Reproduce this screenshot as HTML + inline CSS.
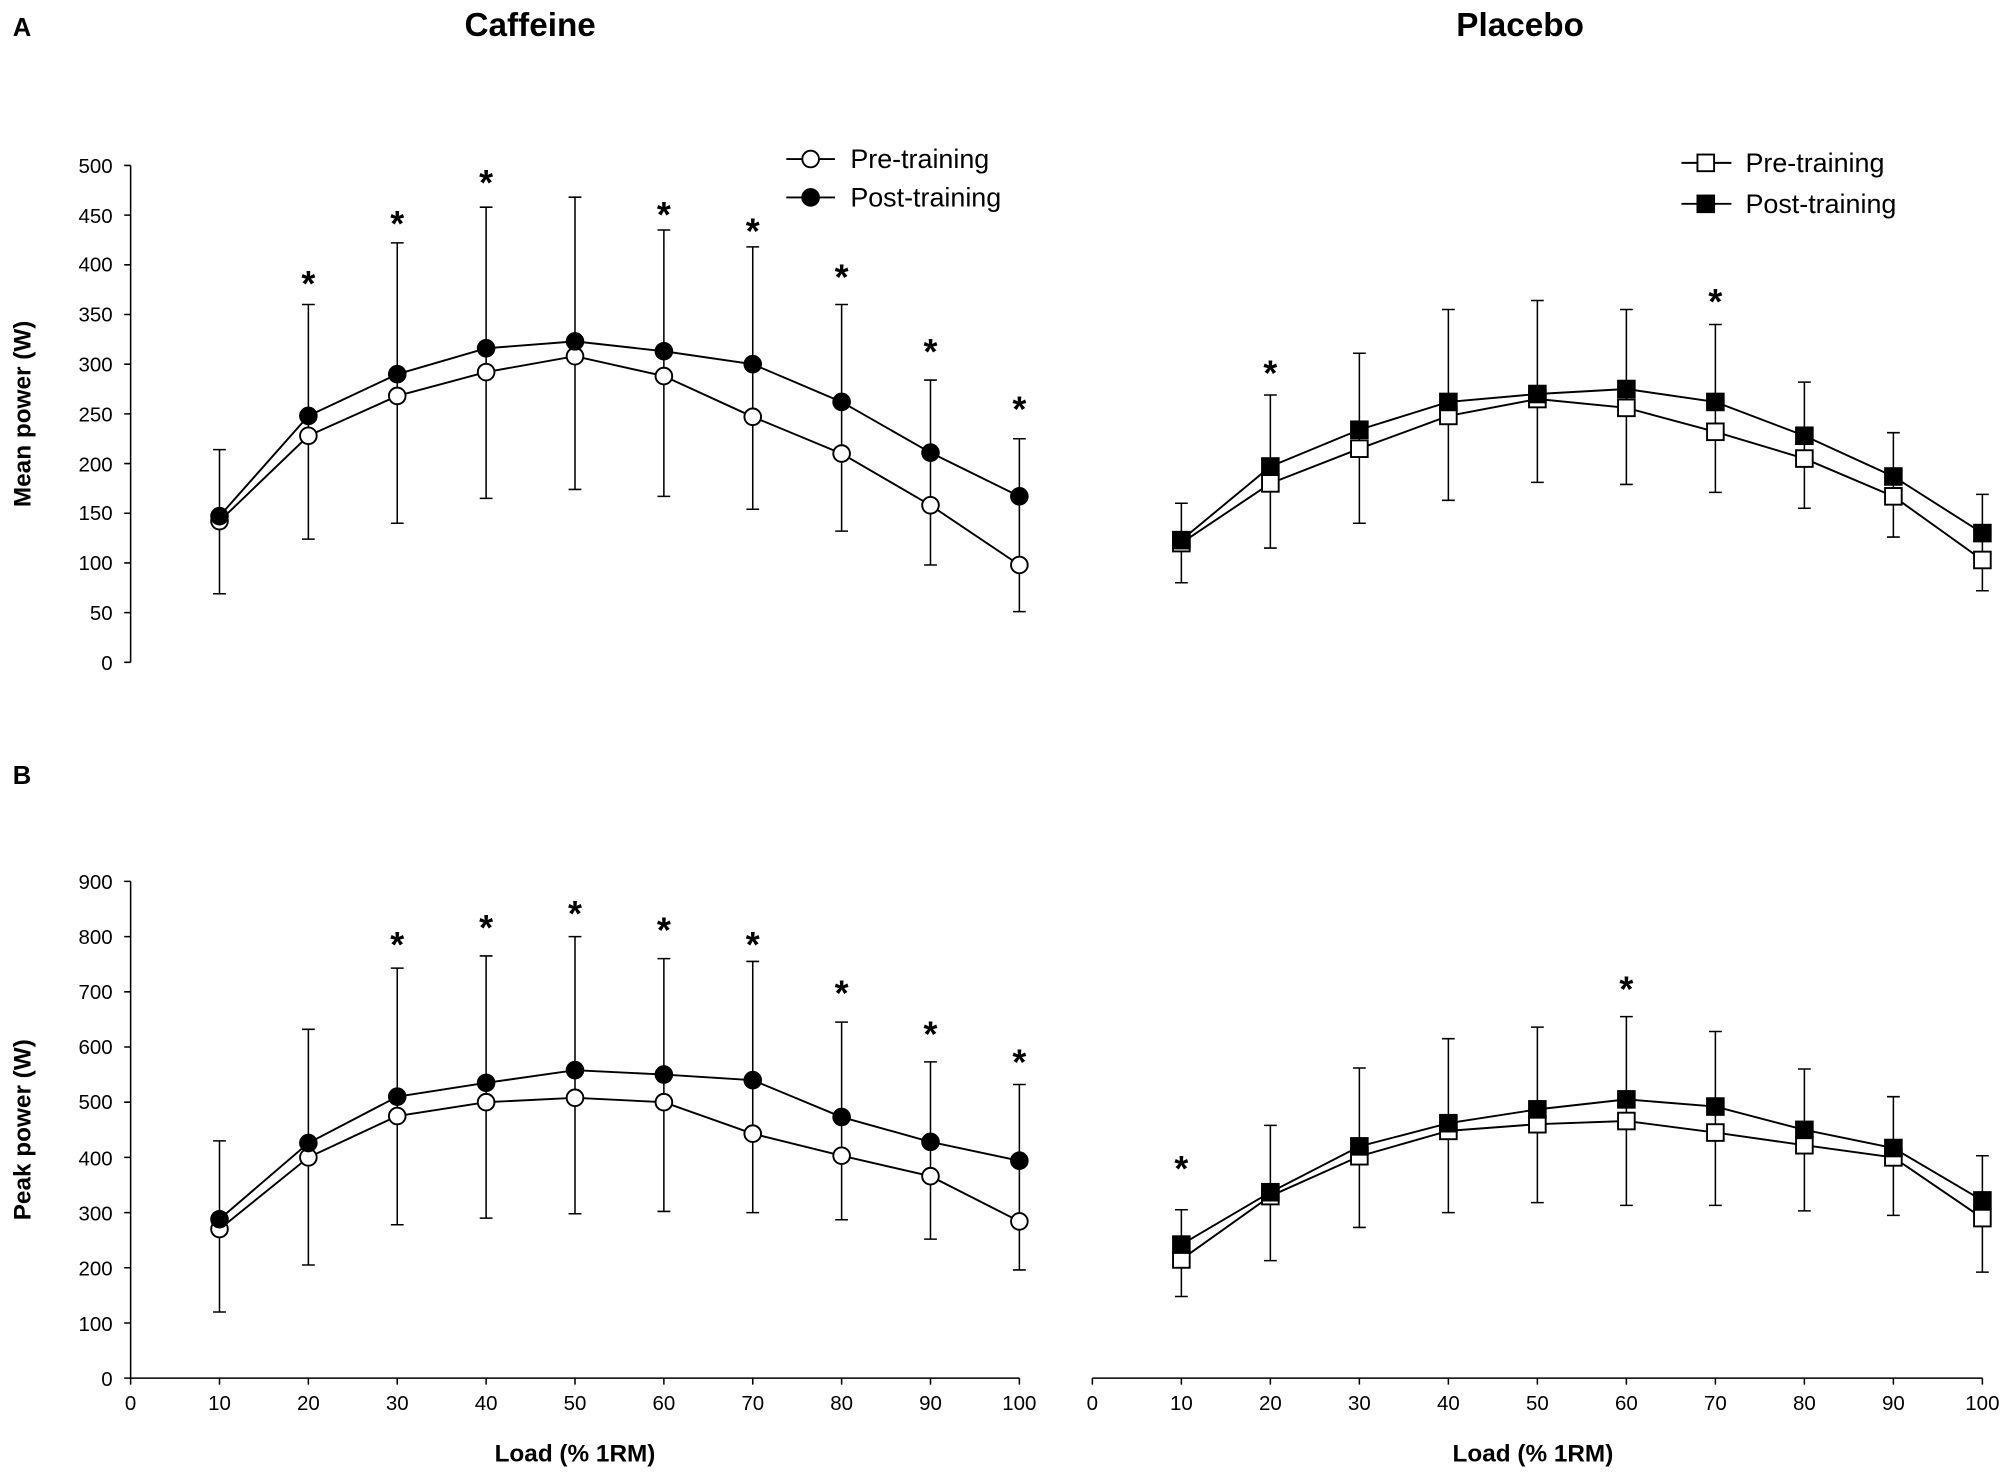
<!DOCTYPE html>
<html><head><meta charset="utf-8"><style>
html,body{margin:0;padding:0;background:#fff}
svg{display:block}
text{font-family:"Liberation Sans",Arial,sans-serif;fill:#000}
.t{font-size:16px}
.b{font-weight:bold}
</style></head><body>
<svg width="2008" height="1477" viewBox="0 0 1568 1153" xmlns="http://www.w3.org/2000/svg">
<defs>
<g id="co"><circle r="6.5" fill="#fff" stroke="#000" stroke-width="1.5"/></g>
<g id="cf"><circle r="6.5" fill="#000" stroke="#000" stroke-width="1.5"/></g>
<g id="so"><rect x="-6.5" y="-6.5" width="13" height="13" fill="#fff" stroke="#000" stroke-width="1.5"/></g>
<g id="sf"><rect x="-6.5" y="-6.5" width="13" height="13" fill="#000" stroke="#000" stroke-width="1.5"/></g>
</defs>
<rect width="1568" height="1153" fill="#fff"/>
<text x="10" y="28" font-size="20" class="b">A</text>
<text x="10" y="612" font-size="20" class="b">B</text>
<text x="414" y="28" font-size="26" class="b" text-anchor="middle">Caffeine</text>
<text x="1187" y="28" font-size="26" class="b" text-anchor="middle">Placebo</text>
<text transform="translate(24,323) rotate(-90)" font-size="19" class="b" text-anchor="middle">Mean power (W)</text>
<text transform="translate(24,882) rotate(-90)" font-size="19" class="b" text-anchor="middle">Peak power (W)</text>
<text x="449" y="1141" font-size="19" class="b" text-anchor="middle">Load (% 1RM)</text>
<text x="1197" y="1141" font-size="19" class="b" text-anchor="middle">Load (% 1RM)</text>

<g stroke="#000" stroke-width="1.2" fill="none">
<path d="M102 129V517 M97 517h5M97 478.2h5M97 439.4h5M97 400.6h5M97 361.8h5M97 323h5M97 284.2h5M97 245.4h5M97 206.6h5M97 167.8h5M97 129h5"/>
<path d="M102 688.1V1076H796 M97 1076h5M97 1032.9h5M97 989.8h5M97 946.7h5M97 903.6h5M97 860.5h5M97 817.4h5M97 774.3h5M97 731.2h5M97 688.1h5"/>
<path d="M102 1076v5M171.4 1076v5M240.8 1076v5M310.2 1076v5M379.6 1076v5M449 1076v5M518.4 1076v5M587.8 1076v5M657.2 1076v5M726.6 1076v5M796 1076v5"/>
<path d="M853 1076H1548 M853 1076v5M922.5 1076v5M992 1076v5M1061.5 1076v5M1131 1076v5M1200.5 1076v5M1270 1076v5M1339.5 1076v5M1409 1076v5M1478.5 1076v5M1548 1076v5"/>
</g>
<g class="t" text-anchor="end">
<text x="88" y="523">0</text><text x="88" y="484">50</text><text x="88" y="445">100</text><text x="88" y="406">150</text><text x="88" y="368">200</text><text x="88" y="329">250</text><text x="88" y="290">300</text><text x="88" y="251">350</text><text x="88" y="212">400</text><text x="88" y="174">450</text><text x="88" y="135">500</text>
<text x="88" y="1082">0</text><text x="88" y="1039">100</text><text x="88" y="996">200</text><text x="88" y="953">300</text><text x="88" y="910">400</text><text x="88" y="866">500</text><text x="88" y="823">600</text><text x="88" y="780">700</text><text x="88" y="737">800</text><text x="88" y="694">900</text>
</g>
<g class="t" text-anchor="middle">
<text x="102" y="1101">0</text><text x="171.4" y="1101">10</text><text x="240.8" y="1101">20</text><text x="310.2" y="1101">30</text><text x="379.6" y="1101">40</text><text x="449" y="1101">50</text><text x="518.4" y="1101">60</text><text x="587.8" y="1101">70</text><text x="657.2" y="1101">80</text><text x="726.6" y="1101">90</text><text x="796" y="1101">100</text>
<text x="853" y="1101">0</text><text x="922.5" y="1101">10</text><text x="992" y="1101">20</text><text x="1061.5" y="1101">30</text><text x="1131" y="1101">40</text><text x="1200.5" y="1101">50</text><text x="1270" y="1101">60</text><text x="1339.5" y="1101">70</text><text x="1409" y="1101">80</text><text x="1478.5" y="1101">90</text><text x="1548" y="1101">100</text>
</g>

<g stroke="#000" stroke-width="1.2" fill="none">
<path d="M171.4 350.9V463.5M166.4 350.9h10M166.4 463.5h10
M240.8 237.6V420.8M235.8 237.6h10M235.8 420.8h10
M310.2 189.5V408.4M305.2 189.5h10M305.2 408.4h10
M379.6 161.6V389M374.6 161.6h10M374.6 389h10
M449 153.8V382M444 153.8h10M444 382h10
M518.4 179.4V387.4M513.4 179.4h10M513.4 387.4h10
M587.8 192.6V397.5M582.8 192.6h10M582.8 397.5h10
M657.2 237.6V414.6M652.2 237.6h10M652.2 414.6h10
M726.6 296.6V441M721.6 296.6h10M721.6 441h10
M796 342.4V477.4M791 342.4h10M791 477.4h10"/>
<path d="M922.5 392.8V454.9M917.5 392.8h10M917.5 454.9h10
M992 308.3V427.8M987 308.3h10M987 427.8h10
M1061.5 275.7V408.4M1056.5 275.7h10M1056.5 408.4h10
M1131 241.5V390.5M1126 241.5h10M1126 390.5h10
M1200.5 234.5V376.5M1195.5 234.5h10M1195.5 376.5h10
M1270 241.5V378.1M1265 241.5h10M1265 378.1h10
M1339.5 253.2V384.3M1334.5 253.2h10M1334.5 384.3h10
M1409 298.2V396.7M1404 298.2h10M1404 396.7h10
M1478.5 337.7V419.2M1473.5 337.7h10M1473.5 419.2h10
M1548 385.9V461.1M1543 385.9h10M1543 461.1h10"/>
<path d="M171.4 890.7V1024.3M166.4 890.7h10M166.4 1024.3h10
M240.8 803.6V987.6M235.8 803.6h10M235.8 987.6h10
M310.2 755.8V956.2M305.2 755.8h10M305.2 956.2h10
M379.6 746.3V951M374.6 746.3h10M374.6 951h10
M449 731.2V947.6M444 731.2h10M444 947.6h10
M518.4 748.4V945.8M513.4 748.4h10M513.4 945.8h10
M587.8 750.6V946.7M582.8 750.6h10M582.8 946.7h10
M657.2 798V952.3M652.2 798h10M652.2 952.3h10
M726.6 829V967.4M721.6 829h10M721.6 967.4h10
M796 846.7V991.5M791 846.7h10M791 991.5h10"/>
<path d="M922.5 944.5V1012.2M917.5 944.5h10M917.5 1012.2h10
M992 878.6V984.2M987 878.6h10M987 984.2h10
M1061.5 833.8V958.3M1056.5 833.8h10M1056.5 958.3h10
M1131 810.9V946.7M1126 810.9h10M1126 946.7h10
M1200.5 801.9V938.9M1195.5 801.9h10M1195.5 938.9h10
M1270 793.7V941.1M1265 793.7h10M1265 941.1h10
M1339.5 805.3V941.1M1334.5 805.3h10M1334.5 941.1h10
M1409 834.6V945.4M1404 834.6h10M1404 945.4h10
M1478.5 856.2V948.9M1473.5 856.2h10M1473.5 948.9h10
M1548 902.3V993.2M1543 902.3h10M1543 993.2h10"/>
</g>

<g stroke="#000" stroke-width="1.5" fill="none">
<polyline points="171.4,406.8 240.8,340.1 310.2,309 379.6,290.4 449,278 518.4,293.5 587.8,325.3 657.2,354 726.6,394.4 796,441"/>
<polyline points="171.4,402.9 240.8,324.6 310.2,292 379.6,271.8 449,266.4 518.4,274.1 587.8,284.2 657.2,313.7 726.6,353.3 796,387.4"/>
<polyline points="922.5,423.9 992,377.3 1061.5,350.2 1131,324.6 1200.5,311.4 1270,318.3 1339.5,337 1409,357.9 1478.5,387.4 1548,437.1"/>
<polyline points="922.5,421.6 992,364.1 1061.5,335.4 1131,313.7 1200.5,307.5 1270,303.6 1339.5,313.7 1409,340.1 1478.5,371.9 1548,416.1"/>
<polyline points="171.4,959.6 240.8,903.6 310.2,871.3 379.6,860.5 449,857.1 518.4,860.5 587.8,885.1 657.2,902.3 726.6,918.3 796,953.6"/>
<polyline points="171.4,951.9 240.8,892.4 310.2,856.2 379.6,845.4 449,835.5 518.4,838.9 587.8,843.3 657.2,872.1 726.6,891.5 796,906.2"/>
<polyline points="922.5,983.3 992,933.8 1061.5,902.7 1131,882.9 1200.5,877.7 1270,875.2 1339.5,884.2 1409,894.1 1478.5,903.6 1548,951"/>
<polyline points="922.5,971.7 992,930.8 1061.5,895 1131,876.9 1200.5,866.1 1270,858.3 1339.5,863.9 1409,882.1 1478.5,896.3 1548,937.2"/>
<path d="M614 124h38M614 154h38M1313 127h39M1313 159h39"/>
</g>

<use href="#co" x="171.4" y="406.8"/><use href="#co" x="240.8" y="340.1"/><use href="#co" x="310.2" y="309"/><use href="#co" x="379.6" y="290.4"/><use href="#co" x="449" y="278"/><use href="#co" x="518.4" y="293.5"/><use href="#co" x="587.8" y="325.3"/><use href="#co" x="657.2" y="354"/><use href="#co" x="726.6" y="394.4"/><use href="#co" x="796" y="441"/>
<use href="#cf" x="171.4" y="402.9"/><use href="#cf" x="240.8" y="324.6"/><use href="#cf" x="310.2" y="292"/><use href="#cf" x="379.6" y="271.8"/><use href="#cf" x="449" y="266.4"/><use href="#cf" x="518.4" y="274.1"/><use href="#cf" x="587.8" y="284.2"/><use href="#cf" x="657.2" y="313.7"/><use href="#cf" x="726.6" y="353.3"/><use href="#cf" x="796" y="387.4"/>
<use href="#so" x="922.5" y="423.9"/><use href="#so" x="992" y="377.3"/><use href="#so" x="1061.5" y="350.2"/><use href="#so" x="1131" y="324.6"/><use href="#so" x="1200.5" y="311.4"/><use href="#so" x="1270" y="318.3"/><use href="#so" x="1339.5" y="337"/><use href="#so" x="1409" y="357.9"/><use href="#so" x="1478.5" y="387.4"/><use href="#so" x="1548" y="437.1"/>
<use href="#sf" x="922.5" y="421.6"/><use href="#sf" x="992" y="364.1"/><use href="#sf" x="1061.5" y="335.4"/><use href="#sf" x="1131" y="313.7"/><use href="#sf" x="1200.5" y="307.5"/><use href="#sf" x="1270" y="303.6"/><use href="#sf" x="1339.5" y="313.7"/><use href="#sf" x="1409" y="340.1"/><use href="#sf" x="1478.5" y="371.9"/><use href="#sf" x="1548" y="416.1"/>
<use href="#co" x="171.4" y="959.6"/><use href="#co" x="240.8" y="903.6"/><use href="#co" x="310.2" y="871.3"/><use href="#co" x="379.6" y="860.5"/><use href="#co" x="449" y="857.1"/><use href="#co" x="518.4" y="860.5"/><use href="#co" x="587.8" y="885.1"/><use href="#co" x="657.2" y="902.3"/><use href="#co" x="726.6" y="918.3"/><use href="#co" x="796" y="953.6"/>
<use href="#cf" x="171.4" y="951.9"/><use href="#cf" x="240.8" y="892.4"/><use href="#cf" x="310.2" y="856.2"/><use href="#cf" x="379.6" y="845.4"/><use href="#cf" x="449" y="835.5"/><use href="#cf" x="518.4" y="838.9"/><use href="#cf" x="587.8" y="843.3"/><use href="#cf" x="657.2" y="872.1"/><use href="#cf" x="726.6" y="891.5"/><use href="#cf" x="796" y="906.2"/>
<use href="#so" x="922.5" y="983.3"/><use href="#so" x="992" y="933.8"/><use href="#so" x="1061.5" y="902.7"/><use href="#so" x="1131" y="882.9"/><use href="#so" x="1200.5" y="877.7"/><use href="#so" x="1270" y="875.2"/><use href="#so" x="1339.5" y="884.2"/><use href="#so" x="1409" y="894.1"/><use href="#so" x="1478.5" y="903.6"/><use href="#so" x="1548" y="951"/>
<use href="#sf" x="922.5" y="971.7"/><use href="#sf" x="992" y="930.8"/><use href="#sf" x="1061.5" y="895"/><use href="#sf" x="1131" y="876.9"/><use href="#sf" x="1200.5" y="866.1"/><use href="#sf" x="1270" y="858.3"/><use href="#sf" x="1339.5" y="863.9"/><use href="#sf" x="1409" y="882.1"/><use href="#sf" x="1478.5" y="896.3"/><use href="#sf" x="1548" y="937.2"/>
<use href="#co" x="633" y="124"/><use href="#cf" x="633" y="154"/>
<use href="#so" x="1332" y="127"/><use href="#sf" x="1332" y="159"/>

<g font-size="21">
<text x="664" y="131">Pre-training</text><text x="664" y="161">Post-training</text>
<text x="1363" y="134">Pre-training</text><text x="1363" y="166">Post-training</text>
</g>

<g font-size="28" font-weight="bold" text-anchor="middle">
<text x="240.8" y="231">*</text><text x="310.2" y="184">*</text><text x="379.6" y="152">*</text><text x="518.4" y="177">*</text><text x="587.8" y="190">*</text><text x="657.2" y="226">*</text><text x="726.6" y="284">*</text><text x="796" y="329">*</text>
<text x="992" y="301">*</text><text x="1339.5" y="245">*</text>
<text x="310.2" y="747">*</text><text x="379.6" y="734">*</text><text x="449" y="723">*</text><text x="518.4" y="736">*</text><text x="587.8" y="747">*</text><text x="657.2" y="785">*</text><text x="726.6" y="817">*</text><text x="796" y="839">*</text>
<text x="922.5" y="922">*</text><text x="1270" y="782">*</text>
</g>
</svg>
</body></html>
